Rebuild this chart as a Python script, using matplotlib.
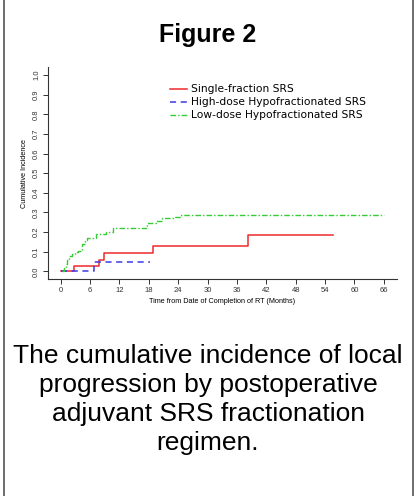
import numpy as np
import matplotlib
matplotlib.use("Agg")
import matplotlib.pyplot as plt
from matplotlib.lines import Line2D

# cumulative incidence step curves (months, value)
single_t = [0, 2.8, 7.9, 8.8, 18.9, 38.3, 55.6]
single_v = [0, 0.028, 0.06, 0.093, 0.132, 0.184, 0.184]

high_t = [0, 6.9, 18.2]
high_v = [0, 0.046, 0.046]

low_t = [0.2, 0.6, 1.0, 1.4, 1.8, 2.3, 2.9, 3.6, 4.4, 4.9, 5.4, 7.2, 9.3, 10.6,
         17.6, 19.5, 20.8, 23.4, 24.5, 66]
low_v = [0, 0.02, 0.04, 0.06, 0.08, 0.09, 0.10, 0.105, 0.14, 0.16, 0.17, 0.19, 0.20, 0.22,
         0.248, 0.255, 0.27, 0.275, 0.285, 0.285]

labels = ["Single-fraction SRS", "High-dose Hypofractionated SRS",
          "Low-dose Hypofractionated SRS"]
xticks = np.arange(0, 67, 6)
yticks = np.round(np.arange(0, 1.01, 0.1), 1)

caption_lines = ["The cumulative incidence of local", "progression by postoperative",
                 "adjuvant SRS fractionation", "regimen."]

fig = plt.figure(figsize=(4.16, 4.96), dpi=100)
fig.patch.set_facecolor("white")

# outer frame lines left and right
fig.add_artist(Line2D([4 / 416, 4 / 416], [0, 1], color="#555555", lw=1.2))
fig.add_artist(Line2D([413 / 416, 413 / 416], [0, 1], color="#555555", lw=1.2))

fig.text(0.5, 1 - 41.7 / 496, "Figure 2", ha="center", va="baseline", fontsize=18,
         fontweight="bold", family="Liberation Sans")

ax = fig.add_axes([47.7 / 416, 1 - 279.3 / 496, 349 / 416, 212.2 / 496])
ax.step(single_t, single_v, where="post", color="#ee2a2a", lw=1.1, label=labels[0])
ax.step(high_t, high_v, where="post", color="#3a3ae8", lw=1.1, ls=(0, (4, 3)),
        label=labels[1])
ax.step(low_t, low_v, where="post", color="#33cc33", lw=1.0, ls=(0, (4, 1.5, 1, 1.5)),
        label=labels[2])

ax.set_xlim(-2.64, 68.64)
ax.set_ylim(-0.04, 1.04)
ax.set_xticks(xticks)
ax.set_yticks(yticks)
ax.set_xticklabels([str(t) for t in xticks], family="Liberation Sans", fontsize=5.5)
ax.set_yticklabels(["%.1f" % t for t in yticks], family="Liberation Sans", fontsize=5.5,
                   rotation=90, va="center")
ax.tick_params(direction="out", length=3.5, width=0.7, colors="#333333", pad=2)
for s in ["top", "right"]:
    ax.spines[s].set_visible(False)
for s in ["left", "bottom"]:
    ax.spines[s].set_color("#333333")
    ax.spines[s].set_linewidth(0.8)

ax.set_xlabel("Time from Date of Completion of RT (Months)", family="Liberation Sans",
              fontsize=5.2, labelpad=3)
ax.set_ylabel("Cumulative Incidence", family="Liberation Sans", fontsize=5.2, labelpad=4)

ax.legend(loc="upper left", bbox_to_anchor=(0.35, 0.919), frameon=False,
          prop={"family": "DejaVu Sans", "size": 7.7}, handlelength=1.6,
          handletextpad=0.35, labelspacing=0.29, borderaxespad=0, borderpad=0)

# caption, one line at a time
for i, line in enumerate(caption_lines):
    fig.text(0.5, 1 - (363.3 + 28.8 * i) / 496, line, ha="center", va="baseline",
             fontsize=19, family="Liberation Sans")

fig.savefig("out.png", dpi=100, facecolor="white")
